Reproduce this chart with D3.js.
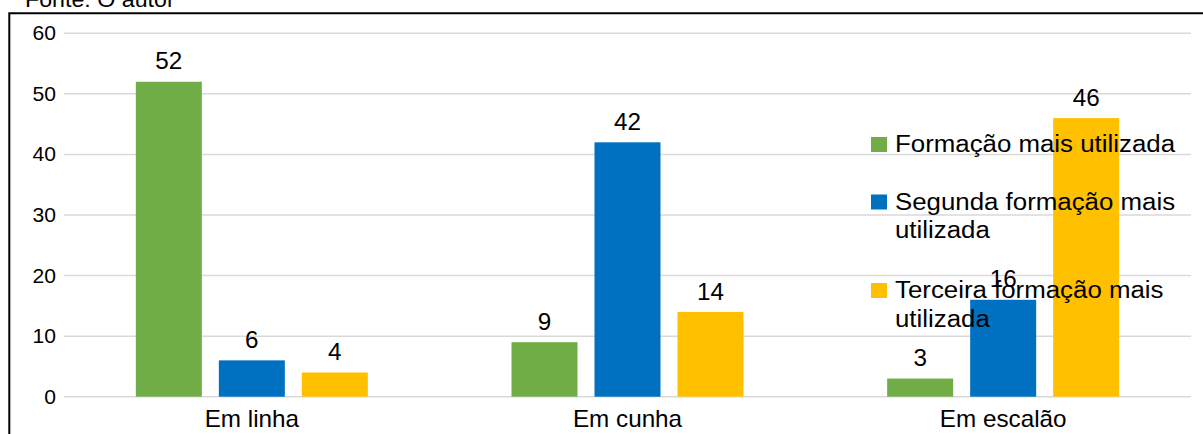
<!DOCTYPE html>
<html>
<head>
<meta charset="utf-8">
<script src="https://cdn.jsdelivr.net/npm/d3@7"></script>
<style>
  body { margin: 0; background: #fff; }
  svg text { font-family: "Liberation Sans", Arial, sans-serif; fill: #000; }
</style>
</head>
<body>
<svg class="chart" width="1203" height="434"></svg>
<script>
const categories = ["Em linha", "Em cunha", "Em escalão"]
const series = ["primeira", "segunda", "terceira"]
const values = {
    primeira: [52, 9, 3],
    segunda: [6, 42, 16],
    terceira: [4, 14, 46]
}
const colors = ["#70AD47", "#0070C0", "#FFC000"]
const legendLines = [
    ["Formação mais utilizada"],
    ["Segunda formação mais", "utilizada"],
    ["Terceira formação mais", "utilizada"]
]
const yTicks = [0, 10, 20, 30, 40, 50, 60]

// the source image text is a little wider than plain Arial
const stretch = 1.055
const place = (x, y) => `translate(${x},${y}) scale(${stretch},1)`

const svg = d3.select("svg.chart")

// source caption, cut off at the top
svg.append("text")
    .attr("transform", place(25, 6.5))
    .style("font-size", "22px")
    .text("Fonte: O autor")

// frame (left + top only visible)
svg.append("path")
    .attr("d", "M9.3,440 V13.3 H1210")
    .attr("fill", "none")
    .attr("stroke", "#000")
    .attr("stroke-width", 2)

const y = d3.scaleLinear()
    .domain([0, 60])
    .range([396.7, 33.3])

const x0 = d3.scaleBand()
    .domain(categories)
    .range([64, 1191])
    .padding(0)

const x1 = d3.scaleBand()
    .domain(series)
    .range([0, 232])
    .paddingInner(17 / 83)

const groupOffset = (x0.bandwidth() - 232) / 2

// gridlines
svg.append("g")
    .selectAll("line")
    .data(yTicks)
    .join("line")
    .attr("x1", 64)
    .attr("x2", 1191)
    .attr("y1", d => y(d))
    .attr("y2", d => y(d))
    .attr("stroke", "#d9d9d9")
    .attr("stroke-width", 1.5)

// y tick labels
svg.append("g")
    .selectAll("text")
    .data(yTicks)
    .join("text")
    .attr("transform", d => place(56, y(d) + 7))
    .attr("text-anchor", "end")
    .style("font-size", "20px")
    .text(d => d)

// bars
const bars = svg.append("g")
series.forEach((s, si) => {
    const g = bars.append("g")
    g.selectAll("rect")
        .data(values[s])
        .join("rect")
        .attr("x", (d, i) => x0(categories[i]) + groupOffset + x1(s))
        .attr("y", d => y(d))
        .attr("width", x1.bandwidth())
        .attr("height", d => y(0) - y(d))
        .attr("fill", colors[si])

    g.selectAll("text")
        .data(values[s])
        .join("text")
        .attr("transform", (d, i) => place(x0(categories[i]) + groupOffset + x1(s) + x1.bandwidth() / 2, y(d) - 12.3))
        .attr("text-anchor", "middle")
        .style("font-size", "23px")
        .text(d => d)
})

// category labels
svg.append("g")
    .selectAll("text")
    .data(categories)
    .join("text")
    .attr("transform", d => place(x0(d) + x0.bandwidth() / 2, 426.5))
    .attr("text-anchor", "middle")
    .style("font-size", "23px")
    .text(d => d)

// legend
const legendY = [137, 194.5, 283]
const legend = svg.append("g")
legendLines.forEach((lines, i) => {
    legend.append("rect")
        .attr("x", 871)
        .attr("y", legendY[i])
        .attr("width", 16)
        .attr("height", 15)
        .attr("fill", colors[i])
    const t = legend.append("text")
        .attr("transform", place(895, legendY[i] + 15))
        .style("font-size", "24.5px")
    lines.forEach((line, j) => {
        t.append("tspan")
            .attr("x", 0)
            .attr("y", j * 29)
            .text(line)
    })
})
</script>
</body>
</html>
